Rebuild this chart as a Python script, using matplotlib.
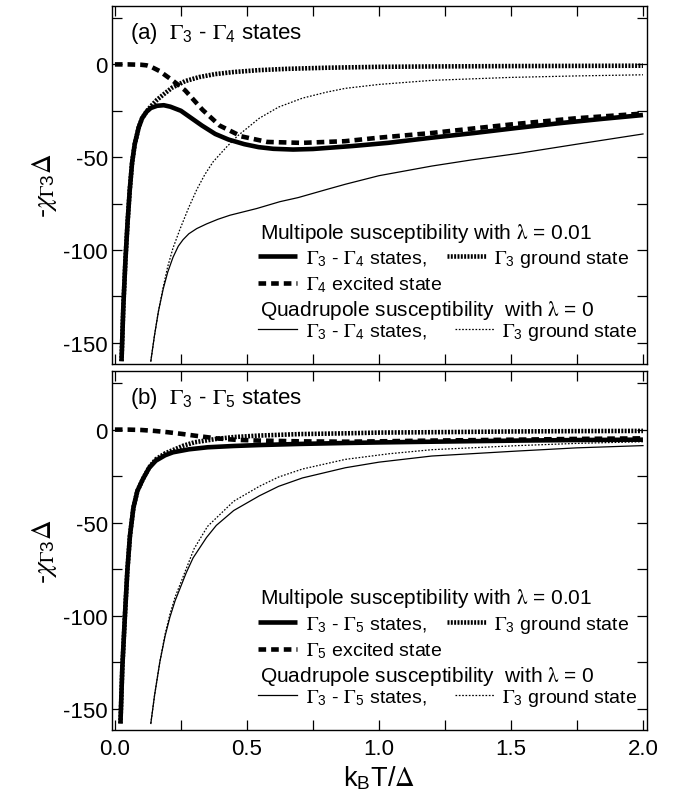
import numpy as np
import matplotlib
matplotlib.use("Agg")
import matplotlib.pyplot as plt
from matplotlib.lines import Line2D

plt.rcParams['font.family'] = ['Liberation Sans', 'DejaVu Sans']
plt.rcParams['mathtext.fontset'] = 'stix'
plt.rcParams['axes.unicode_minus'] = False
plt.rcParams['lines.scale_dashes'] = False

# ---- panel (a): Gamma3 - Gamma4 ----
# multipole, lambda = 0.01, Gamma3-Gamma4 states (thick solid)
xa_sol = [0.025, 0.032, 0.04, 0.048, 0.056, 0.065, 0.075, 0.09, 0.103, 0.12, 0.136, 0.16,
          0.185, 0.21, 0.25, 0.29, 0.33, 0.38, 0.43, 0.49, 0.544, 0.6, 0.675, 0.75, 0.806,
          0.9, 1.034, 1.2, 1.36, 1.52, 1.69, 1.85, 2.0]
ya_sol = [-160, -130, -105, -85, -68, -53, -43, -34, -29, -25.5, -23.5, -22.3,
          -22, -22.8, -25, -29, -33, -37.5, -40.5, -43, -44.6, -45.5, -45.9, -45.6, -45,
          -44, -42.3, -39.5, -37, -34.3, -31.6, -29.3, -27.3]
# Gamma4 excited state (thick dashed)
xa_dash = [0.0, 0.05, 0.1, 0.12, 0.136, 0.168, 0.217, 0.266, 0.332, 0.397, 0.479, 0.577,
           0.708, 0.871, 1.0, 1.198, 1.36, 1.525, 1.75, 2.0]
ya_dash = [0, 0, -0.2, -0.5, -1.2, -3.5, -8.5, -14, -24.5, -33, -38.8, -41.8,
           -42.3, -41.4, -39.5, -37, -34.5, -32, -29, -26.5]
# Gamma3 ground state (thick dotted)
xa_dot = [0.025, 0.032, 0.04, 0.048, 0.056, 0.065, 0.075, 0.09, 0.103, 0.12, 0.14, 0.16,
          0.19, 0.217, 0.266, 0.32, 0.38, 0.45, 0.544, 0.65, 0.8, 1.0, 1.2, 1.5, 1.75, 2.0]
ya_dot = [-160, -130, -105, -85, -68, -53, -43, -34, -29, -25.3, -22, -19,
          -15.5, -12.5, -9, -6.8, -5.2, -4.1, -3.1, -2.4, -1.8, -1.3, -1.1, -0.9, -0.8, -0.7]
# quadrupole, lambda = 0, Gamma3-Gamma4 states (thin solid)
xa_qsol = [0.136, 0.15, 0.165, 0.183, 0.2, 0.22, 0.24, 0.258, 0.28, 0.31, 0.347, 0.39,
           0.436, 0.537, 0.625, 0.694, 0.8, 0.873, 1.0, 1.2, 1.35, 1.527, 1.75, 2.0]
ya_qsol = [-160, -146, -133, -121, -112, -104, -98, -94.5, -91.3, -88.5, -86, -83.5,
           -81.3, -77.7, -74, -71.8, -67.5, -64.6, -60, -54.8, -51.5, -48, -43, -37.5]
# Gamma3 ground state (thin dotted)
xa_qdot = [0.136, 0.15, 0.165, 0.183, 0.2, 0.22, 0.246, 0.28, 0.31, 0.34, 0.372, 0.423,
           0.465, 0.547, 0.62, 0.71, 0.8, 0.873, 1.0, 1.2, 1.5, 1.75, 2.0]
ya_qdot = [-160, -146, -133, -120, -109, -99, -89, -77, -67.5, -59.5, -52.5, -44.5,
           -38.5, -29, -23, -18.2, -15, -12.9, -10.8, -8.6, -7, -6.2, -5.6]

# ---- panel (b): Gamma3 - Gamma5 ----
xb_sol = [0.021, 0.028, 0.038, 0.047, 0.057, 0.07, 0.085, 0.106, 0.13, 0.155, 0.19, 0.22,
          0.28, 0.351, 0.45, 0.547, 0.7, 0.873, 1.0, 1.2, 1.527, 1.75, 2.0]
yb_sol = [-158, -128, -99.8, -76, -57, -42, -33, -26.6, -20.5, -16.7, -13.8, -12.2,
          -10.6, -9.5, -8.8, -8.3, -7.7, -7.2, -6.9, -6.5, -5.9, -5.6, -5.4]
xb_dash = [0.0, 0.05, 0.1, 0.15, 0.2, 0.253, 0.3, 0.384, 0.46, 0.547, 0.7, 0.873,
           1.0, 1.2, 1.527, 1.75, 2.0]
yb_dash = [0, 0, -0.2, -0.7, -1.4, -2.3, -3.2, -4.7, -5.5, -5.9, -6.3, -6.5,
           -6.3, -5.9, -5.4, -5.0, -4.7]
xb_dot = [0.021, 0.028, 0.038, 0.047, 0.057, 0.07, 0.085, 0.106, 0.13, 0.155, 0.19, 0.22,
          0.26, 0.302, 0.384, 0.45, 0.547, 0.7, 0.873, 1.0, 1.2, 1.5, 1.75, 2.0]
yb_dot = [-158, -128, -99.8, -76, -57, -42, -33, -26.6, -20.3, -16, -12.8, -11,
          -8.6, -6.8, -5, -4, -3.2, -2.4, -2, -1.6, -1.4, -1.0, -0.8, -0.7]
xb_qsol = [0.136, 0.15, 0.17, 0.19, 0.208, 0.228, 0.246, 0.27, 0.296, 0.347, 0.384, 0.45,
           0.547, 0.62, 0.71, 0.873, 1.0, 1.2, 1.527, 1.75, 2.0]
yb_qsol = [-158, -143, -125, -111, -101, -92, -85.6, -77, -69, -58, -51.5, -43.5,
           -35.6, -30.5, -26, -20.5, -17.5, -14.2, -11.5, -9.8, -8.6]
xb_qdot = [0.136, 0.15, 0.17, 0.19, 0.208, 0.228, 0.253, 0.3, 0.351, 0.45, 0.547, 0.62,
           0.71, 0.873, 1.037, 1.2, 1.527, 1.75, 2.0]
yb_qdot = [-158, -143, -125, -110, -99.5, -90, -81, -64, -52, -38.5, -30.5, -25.5,
           -21.2, -16, -13, -10.8, -8.6, -7.4, -6.5]

xticks = [0.0, 0.5, 1.0, 1.5, 2.0]
xticklabels = ['0.0', '0.5', '1.0', '1.5', '2.0']
yticks = [0, -50, -100, -150]
yticklabels = ['0', '-50', '-100', '-150']

THICK = 3.3
THIN = 0.9
st_sol = dict(color='black', lw=THICK, ls='-', solid_capstyle='butt')
st_dash = dict(color='black', lw=THICK, ls=(0, (5.5, 3.6)), dash_capstyle='butt')
st_dot = dict(color='black', lw=THICK, ls=(0, (1.4, 1.0)), dash_capstyle='butt')
st_qsol = dict(color='black', lw=THIN, ls='-')
st_qdot = dict(color='black', lw=THIN, ls=(0, (1.2, 1.2)))

fig = plt.figure(figsize=(6.76, 8.03), dpi=100)
ax_a = fig.add_axes([0.1657, 0.5455, 0.7913, 0.4458])
ax_b = fig.add_axes([0.1657, 0.0897, 0.7913, 0.4470])


def G(n):
    return r'$\Gamma_\mathregular{%s}$' % n


def panel(ax, tag, other, data):
    (xs, ys), (xd, yd), (xo, yo), (xqs, yqs), (xqd, yqd) = data
    l_sol, = ax.plot(xs, ys, **st_sol)
    l_dash, = ax.plot(xd, yd, **st_dash)
    l_dot, = ax.plot(xo, yo, **st_dot)
    l_qsol, = ax.plot(xqs, yqs, **st_qsol)
    l_qdot, = ax.plot(xqd, yqd, **st_qdot)

    ax.set_xlim(-0.011, 2.015)
    ax.set_ylim(-161.5, 31.5)
    ax.set_xticks(xticks)
    ax.set_xticks(np.arange(0.25, 2.0, 0.5), minor=True)
    ax.set_yticks(yticks)
    ax.set_yticklabels(yticklabels)
    ax.set_yticks([25, -25, -75, -125], minor=True)
    ax.tick_params(which='both', direction='in', top=True, right=True, labelsize=16,
                   width=0.9, length=7)
    ax.tick_params(axis='y', pad=3)
    ax.tick_params(axis='x', pad=6)
    for s in ax.spines.values():
        s.set_linewidth(1.0)
    ax.set_ylabel(r'-$\chi_{\Gamma\mathregular{3}}\Delta$', fontsize=19.5, labelpad=3)

    ax.text(0.034, 0.925, '(%s)  %s - %s states' % (tag, G(3), G(other)),
            transform=ax.transAxes, fontsize=16, va='center', ha='left')

    # legend headers
    ax.text(0.277, 0.368, r'Multipole susceptibility with $\mathrm{\lambda}$ = 0.01',
            transform=ax.transAxes, fontsize=15, va='center', ha='left')
    ax.text(0.277, 0.153, r'Quadrupole susceptibility  with $\mathrm{\lambda}$ = 0',
            transform=ax.transAxes, fontsize=15, va='center', ha='left')

    blank = Line2D([], [], linestyle='none')
    leg1 = ax.legend([l_sol, l_dash, l_dot, blank],
                     ['%s - %s states,' % (G(3), G(other)),
                      '%s excited state' % G(other),
                      '%s ground state' % G(3), ''],
                     ncol=2, loc='center left', bbox_to_anchor=(0.273, 0.259),
                     frameon=False, fontsize=14, borderpad=0, borderaxespad=0,
                     handlelength=2.0, handletextpad=0.45, columnspacing=0.25,
                     labelspacing=0.35)
    ax.add_artist(leg1)
    ax.legend([l_qsol, l_qdot],
              ['%s - %s states,' % (G(3), G(other)), '%s ground state' % G(3)],
              ncol=2, loc='center left', bbox_to_anchor=(0.273, 0.09),
              frameon=False, fontsize=14, borderpad=0, borderaxespad=0,
              handlelength=2.0, handletextpad=0.45, columnspacing=1.45)


panel(ax_a, 'a', '4', [(xa_sol, ya_sol), (xa_dash, ya_dash), (xa_dot, ya_dot),
                       (xa_qsol, ya_qsol), (xa_qdot, ya_qdot)])
panel(ax_b, 'b', '5', [(xb_sol, yb_sol), (xb_dash, yb_dash), (xb_dot, yb_dot),
                       (xb_qsol, yb_qsol), (xb_qdot, yb_qdot)])

ax_a.tick_params(labelbottom=False)
ax_b.set_xticklabels(xticklabels)
ax_b.set_xlabel(r'k$_\mathregular{B}$T/$\Delta$', fontsize=19.5, labelpad=3)

fig.savefig('out.png', dpi=100)
